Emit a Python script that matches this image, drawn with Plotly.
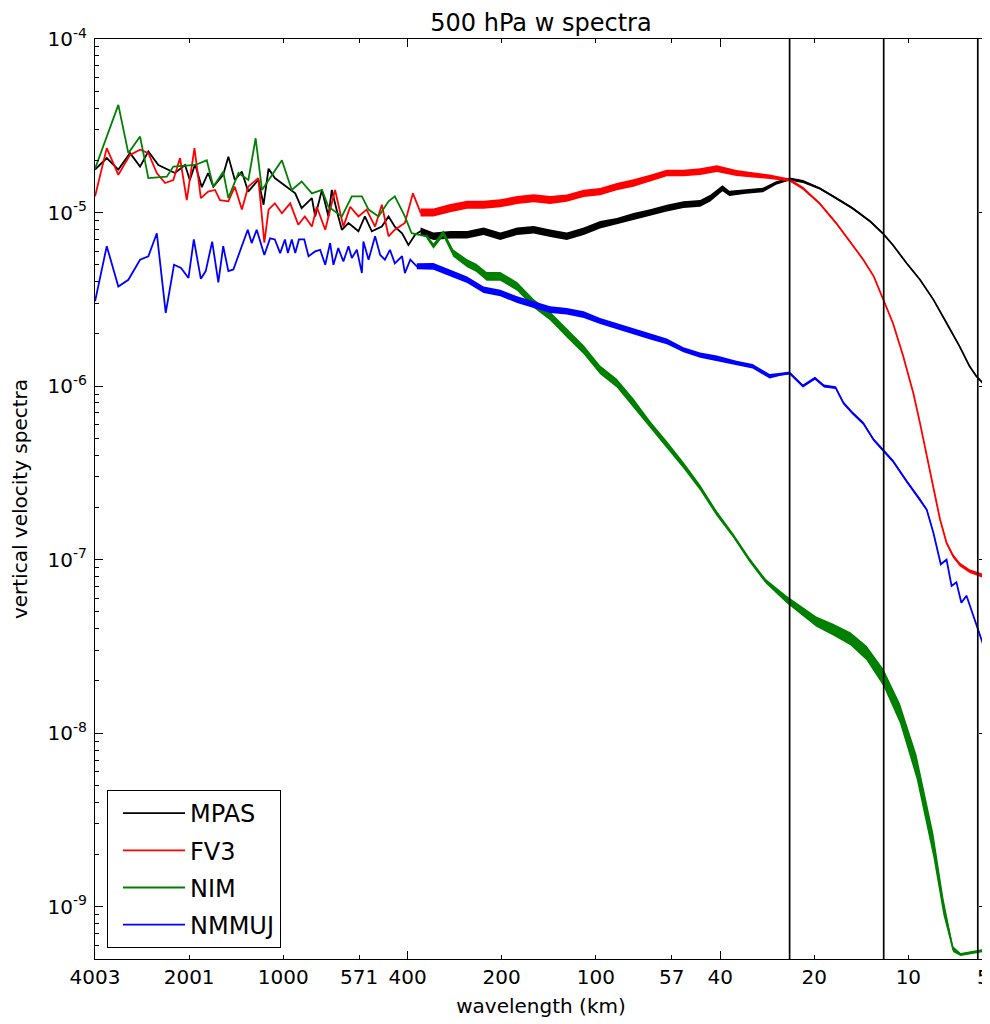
import math
import plotly.graph_objects as go

# ---------------- data ----------------
# x = spherical wavenumber k (wavelength = 4003 km / k), y = vertical velocity spectra

MPAS_K_LOW = [1.0, 1.09, 1.187, 1.294, 1.393, 1.481, 1.594, 1.696, 1.802, 1.94,
              2.01, 2.09, 2.195, 2.30, 2.39, 2.57, 2.67, 2.80, 2.95, 3.09,
              3.33, 3.46, 3.59, 3.76, 4.05, 4.37, 4.58, 4.94, 5.06, 5.32,
              5.58, 5.72, 6.0, 6.16, 6.47, 6.96, 7.30, 7.68, 8.27, 8.69,
              9.1, 9.6, 10.06, 10.57]
MPAS_V_LOW = [1.77e-5, 2.06e-5, 1.77e-5, 2.2e-5, 1.84e-5, 2.25e-5, 1.88e-5, 1.79e-5, 1.69e-5, 1.88e-5,
              1.54e-5, 1.9e-5, 1.4e-5, 1.69e-5, 1.41e-5, 1.65e-5, 2.1e-5, 1.54e-5, 1.72e-5, 1.32e-5,
              1.54e-5, 1.11e-5, 1.79e-5, 1.58e-5, 1.43e-5, 1.29e-5, 1.06e-5, 1.21e-5, 9.5e-6, 1.35e-5,
              9.5e-6, 1.35e-5, 9.5e-6, 7.96e-6, 8.7e-6, 7.8e-6, 9.5e-6, 7.8e-6, 8.3e-6, 9.5e-6,
              8.3e-6, 7.6e-6, 6.5e-6, 7.45e-6]
MPAS_K_MID = [11, 12.1, 13.7, 15.5, 17.5, 19.8, 22.4, 25.3, 28.6, 32.3,
              36.6, 41.3, 46.7, 52.8, 59.7, 67.5, 76.3, 86.3, 93, 101.7,
              107, 121, 137, 151, 166.8, 184, 208, 235, 265, 302,
              331, 357, 395, 436, 481, 530, 584, 628, 660, 714]
MPAS_V_MID = [7.8e-6, 7.3e-6, 7.45e-6, 7.45e-6, 7.8e-6, 7.3e-6, 7.8e-6, 7.96e-6, 7.6e-6, 7.3e-6,
              7.8e-6, 8.5e-6, 8.9e-6, 9.5e-6, 1.0e-5, 1.06e-5, 1.11e-5, 1.13e-5, 1.21e-5, 1.38e-5,
              1.29e-5, 1.32e-5, 1.35e-5, 1.48e-5, 1.56e-5, 1.51e-5, 1.38e-5, 1.21e-5, 1.06e-5, 8.9e-6,
              7.6e-6, 6.5e-6, 5.1e-6, 4.1e-6, 3.15e-6, 2.31e-6, 1.69e-6, 1.3e-6, 1.14e-6, 9.8e-7]
# multiplicative half-width of the visible noise envelope
MPAS_SPREAD = [1.05, 1.05, 1.05, 1.05, 1.05, 1.05, 1.05, 1.05, 1.05, 1.05,
               1.05, 1.05, 1.045, 1.045, 1.045, 1.045, 1.045, 1.045, 1.045, 1.04,
               1.035, 1.03, 1.03, 1.025, 1.02, 1.02, 1.015, 1.015, 1.015, 1.015,
               1.01, 1.01, 1.01, 1.01, 1.01, 1.01, 1.01, 1.01, 1.01, 1.01]

FV3_K_LOW = [1.0, 1.09, 1.187, 1.294, 1.393, 1.481, 1.576, 1.675, 1.78, 1.87,
             1.965, 2.08, 2.18, 2.30, 2.42, 2.51, 2.67, 2.80, 2.95, 3.09,
             3.33, 3.48, 3.59, 3.76, 3.96, 4.21, 4.47, 4.69, 4.94, 5.12,
             5.45, 5.86, 6.23, 6.55, 6.96, 7.39, 7.87, 8.27, 8.69, 9.1,
             9.8, 10.4]
FV3_V_LOW = [1.24e-5, 2.35e-5, 1.65e-5, 2.15e-5, 2.3e-5, 2.2e-5, 1.69e-5, 1.48e-5, 1.54e-5, 2.06e-5,
             1.18e-5, 2.35e-5, 1.21e-5, 1.32e-5, 1.35e-5, 1.18e-5, 1.16e-5, 1.41e-5, 1.04e-5, 1.41e-5,
             1.58e-5, 6.7e-6, 1.04e-5, 1.13e-5, 9.9e-6, 1.13e-5, 8.5e-6, 9.5e-6, 8.3e-6, 1.08e-5,
             7.96e-6, 1.35e-5, 8.3e-6, 1.08e-5, 9.5e-6, 1.04e-5, 8.3e-6, 1.11e-5, 7.3e-6, 7.96e-6,
             8.7e-6, 1.29e-5]
FV3_K_MID = [11, 12.1, 13.7, 15.5, 17.5, 19.8, 22.4, 25.3, 28.6, 32.3,
             36.6, 41.3, 46.7, 52.8, 59.7, 67.5, 76.3, 86.3, 97.6, 112.7,
             127, 144, 166.8, 184, 208, 235, 265, 287, 310, 331,
             357, 385, 415, 436, 458, 481, 505, 530, 556, 584,
             628, 679, 714]
FV3_V_MID = [1.0e-5, 1.0e-5, 1.06e-5, 1.11e-5, 1.11e-5, 1.13e-5, 1.18e-5, 1.21e-5, 1.18e-5, 1.21e-5,
             1.29e-5, 1.32e-5, 1.41e-5, 1.48e-5, 1.58e-5, 1.69e-5, 1.69e-5, 1.72e-5, 1.79e-5, 1.69e-5,
             1.65e-5, 1.61e-5, 1.54e-5, 1.38e-5, 1.13e-5, 8.7e-6, 6.5e-6, 5.35e-6, 4.29e-6, 3.22e-6,
             2.31e-6, 1.49e-6, 9.1e-7, 6.1e-7, 3.95e-7, 2.54e-7, 1.71e-7, 1.25e-7, 1.05e-7, 9.4e-8,
             8.6e-8, 8.2e-8, 7.9e-8]
FV3_SPREAD = [1.055, 1.055, 1.055, 1.055, 1.055, 1.055, 1.055, 1.055, 1.055, 1.05,
              1.05, 1.05, 1.05, 1.05, 1.045, 1.045, 1.045, 1.045, 1.045, 1.04,
              1.035, 1.03, 1.02, 1.02, 1.015, 1.015, 1.015, 1.01, 1.01, 1.01,
              1.01, 1.01, 1.01, 1.01, 1.01, 1.01, 1.015, 1.02, 1.025, 1.025,
              1.025, 1.025, 1.025]

NIM_K_LOW = [1.0, 1.187, 1.278, 1.393, 1.481, 1.696, 1.78, 2.09, 2.277, 2.39,
             2.57, 2.67, 2.876, 3.094, 3.264, 3.42, 3.96, 4.26, 4.58, 4.94,
             5.32, 5.58, 6.16, 6.63, 7.14, 7.5, 8.07, 8.69, 9.1, 9.8,
             10.3]
NIM_V_LOW = [1.79e-5, 4.17e-5, 2.2e-5, 2.74e-5, 1.58e-5, 1.61e-5, 1.84e-5, 1.88e-5, 2.0e-5, 1.41e-5,
             1.72e-5, 1.21e-5, 1.69e-5, 1.54e-5, 2.68e-5, 1.35e-5, 2.0e-5, 1.35e-5, 1.51e-5, 1.29e-5,
             1.35e-5, 1.08e-5, 9.5e-6, 1.24e-5, 1.24e-5, 1.04e-5, 9.5e-6, 1.16e-5, 1.24e-5, 9.5e-6,
             7.6e-6]
NIM_K_MID = [11.5, 12.1, 13.0, 14.0, 15.5, 16.6, 17.9, 19.8, 22.4, 25.3,
             28.6, 32.3, 36.6, 41.3, 46.7, 52.8, 59.7, 67.5, 76.3, 86.3,
             97.6, 110, 124, 140, 163, 203, 230, 261, 294, 333,
             376, 425, 481, 518, 556, 588, 646, 697, 714]
NIM_V_MID = [7.3e-6, 6.4e-6, 7.6e-6, 5.84e-6, 5.1e-6, 4.8e-6, 4.29e-6, 4.29e-6, 3.75e-6, 3.0e-6,
             2.53e-6, 2.02e-6, 1.62e-6, 1.24e-6, 1.04e-6, 8.0e-7, 6.0e-7, 4.6e-7, 3.5e-7, 2.6e-7,
             1.84e-7, 1.38e-7, 1.0e-7, 7.5e-8, 5.9e-8, 4.4e-8, 3.95e-8, 3.5e-8, 2.9e-8, 2.09e-8,
             1.3e-8, 6.4e-9, 2.26e-9, 1.0e-9, 5.7e-10, 5.3e-10, 5.45e-10, 5.6e-10, 6.0e-10]
NIM_SPREAD = [1.03, 1.035, 1.04, 1.05, 1.055, 1.055, 1.06, 1.06, 1.06, 1.06,
              1.06, 1.06, 1.06, 1.06, 1.06, 1.06, 1.05, 1.05, 1.045, 1.04,
              1.035, 1.03, 1.03, 1.03, 1.05, 1.07, 1.08, 1.09, 1.10, 1.12,
              1.14, 1.17, 1.17, 1.12, 1.04, 1.02, 1.02, 1.02, 1.02]

NMMUJ_K_LOW = [1.0, 1.09, 1.187, 1.278, 1.393, 1.481, 1.576, 1.683, 1.789, 1.884,
               1.99, 2.07, 2.18, 2.26, 2.37, 2.48, 2.57, 2.67, 2.77, 3.08,
               3.17, 3.29, 3.48, 3.63, 3.76, 3.91, 4.05, 4.14, 4.26, 4.37,
               4.49, 4.67, 4.82, 5.06, 5.25, 5.45, 5.65, 5.79, 6.0, 6.23,
               6.47, 6.63, 6.88, 7.14, 7.22, 7.5, 7.87, 8.17, 8.46, 8.78,
               9.1, 9.6, 9.8, 10.2]
NMMUJ_V_LOW = [3.08e-6, 6.4e-6, 3.75e-6, 4.1e-6, 5.35e-6, 5.6e-6, 7.6e-6, 2.64e-6, 5.0e-6, 4.8e-6,
               4.2e-6, 7.0e-6, 4.15e-6, 4.6e-6, 6.8e-6, 3.96e-6, 6.4e-6, 4.6e-6, 4.7e-6, 7.96e-6,
               6.67e-6, 7.96e-6, 5.7e-6, 7.1e-6, 7.0e-6, 5.84e-6, 7.0e-6, 5.84e-6, 7.0e-6, 5.84e-6,
               7.0e-6, 7.0e-6, 5.6e-6, 5.97e-6, 6.1e-6, 5.0e-6, 6.67e-6, 5.0e-6, 6.24e-6, 5.23e-6,
               6.4e-6, 5.47e-6, 6.1e-6, 4.48e-6, 6.8e-6, 5.35e-6, 7.3e-6, 5.7e-6, 5.35e-6, 6.1e-6,
               5.1e-6, 5.6e-6, 4.48e-6, 5.35e-6]
NMMUJ_K_MID = [10.7, 12.1, 13.7, 15.5, 17.5, 19.8, 22.4, 25.3, 28.6, 32.3,
               36.6, 41.3, 46.7, 52.8, 59.7, 67.5, 76.3, 86.3, 97.6, 112.7,
               127, 144, 156, 166.8, 184, 201, 215, 234, 248, 265,
               287, 310, 331, 357, 395, 436, 458, 481, 508, 530,
               550, 570, 591, 614, 646, 670, 714]
NMMUJ_V_MID = [4.9e-6, 4.9e-6, 4.48e-6, 4.1e-6, 3.59e-6, 3.44e-6, 3.15e-6, 2.95e-6, 2.76e-6, 2.7e-6,
               2.58e-6, 2.37e-6, 2.21e-6, 2.07e-6, 1.93e-6, 1.81e-6, 1.62e-6, 1.51e-6, 1.45e-6, 1.36e-6,
               1.3e-6, 1.14e-6, 1.17e-6, 1.19e-6, 1.0e-6, 1.11e-6, 1.0e-6, 9.8e-7, 8.0e-7, 7.0e-7,
               6.1e-7, 4.9e-7, 4.3e-7, 3.7e-7, 2.83e-7, 2.22e-7, 1.94e-7, 1.43e-7, 9.4e-8, 1.0e-7,
               7.05e-8, 7.4e-8, 5.65e-8, 6.2e-8, 4.73e-8, 3.97e-8, 2.79e-8]
NMMUJ_SPREAD = [1.04, 1.045, 1.045, 1.045, 1.045, 1.045, 1.045, 1.045, 1.045, 1.045,
                1.045, 1.04, 1.04, 1.04, 1.04, 1.04, 1.035, 1.035, 1.035, 1.03,
                1.03, 1.03, 1.02, 1.02, 1.02, 1.02, 1.02, 1.02, 1.02, 1.02,
                1.02, 1.02, 1.02, 1.02, 1.02, 1.02, 1.015, 1.015, 1.01, 1.01,
                1.01, 1.01, 1.01, 1.01, 1.01, 1.01, 1.01]

# wavelength of k = 1 and the reference wavelengths marked with vertical lines
BASE_WAVELENGTH_KM = 4003
MARKED_WAVELENGTHS_KM = [24, 12, 6]

# x tick positions (wavenumber) and their wavelength labels
XTICK_K = [1, 2, 4, 7, 10, 20, 40, 70, 100, 200, 400, 695]
XTICK_LABELS = ["4003", "2001", "1000", "571", "400", "200", "100", "57", "40", "20", "10", "5"]
XMAJOR_K = [1, 10, 100]

YTICK_VALS = [1e-9, 1e-8, 1e-7, 1e-6, 1e-5, 1e-4]
YTICK_LABELS = ["10<sup>-9</sup>", "10<sup>-8</sup>", "10<sup>-7</sup>",
                "10<sup>-6</sup>", "10<sup>-5</sup>", "10<sup>-4</sup>"]

K_MAX = 714
Y_MIN, Y_MAX = 5e-10, 1e-4

SERIES = [
    ("MPAS", "#000000", MPAS_K_LOW, MPAS_V_LOW, MPAS_K_MID, MPAS_V_MID, MPAS_SPREAD),
    ("FV3", "#ff0000", FV3_K_LOW, FV3_V_LOW, FV3_K_MID, FV3_V_MID, FV3_SPREAD),
    ("NIM", "#008000", NIM_K_LOW, NIM_V_LOW, NIM_K_MID, NIM_V_MID, NIM_SPREAD),
    ("NMMUJ", "#0000ff", NMMUJ_K_LOW, NMMUJ_V_LOW, NMMUJ_K_MID, NMMUJ_V_MID, NMMUJ_SPREAD),
]

# ---------------- figure ----------------
fig = go.Figure()

for name, color, kl, vl, km, vm, sp in SERIES:
    hi = [v * s for v, s in zip(vm, sp)]
    lo = [v / s for v, s in zip(vm, sp)]
    fig.add_trace(go.Scatter(
        x=km + km[::-1], y=hi + lo[::-1], mode="lines", fill="toself",
        fillcolor=color, line=dict(width=0, color=color), hoverinfo="skip",
        showlegend=False, legendgroup=name))
    fig.add_trace(go.Scatter(
        x=kl + km, y=vl + vm, mode="lines", name=name, legendgroup=name,
        line=dict(color=color, width=1.8)))

for wl in MARKED_WAVELENGTHS_KM:
    kk = BASE_WAVELENGTH_KM / wl
    fig.add_trace(go.Scatter(
        x=[kk, kk], y=[Y_MIN, Y_MAX], mode="lines",
        line=dict(color="black", width=1.7), hoverinfo="skip", showlegend=False))

yminor = [m * 10.0 ** e for e in range(-10, -4) for m in range(2, 10)
          if Y_MIN * 0.999 <= m * 10.0 ** e <= Y_MAX]

# page body has an 8px offset, so the figure is 8px smaller and shifted
W, H = 982, 1016
fig.update_layout(
    width=W, height=H,
    margin=dict(l=87, r=3, t=31, b=65, autoexpand=False),
    paper_bgcolor="white", plot_bgcolor="white",
    font=dict(family="DejaVu Sans", size=20, color="black"),
    title=dict(text="500 hPa w spectra", x=0.5, xref="paper", xanchor="center",
               y=1 - 14.5 / H, yref="container", yanchor="middle",
               font=dict(size=24, color="black")),
    showlegend=True,
    legend=dict(x=(107 - 95) / 892, y=(959 - 790) / 920, xanchor="left", yanchor="top",
                xref="paper", yref="paper",
                bordercolor="black", borderwidth=1, bgcolor="white",
                font=dict(size=24, color="black"), tracegroupgap=3,
                traceorder="grouped", itemwidth=62, indentation=10),
)

fig.update_xaxes(
    type="log", range=[-0.0002, math.log10(K_MAX)],
    tickmode="array", tickvals=XTICK_K, ticktext=XTICK_LABELS,
    ticks="inside", ticklen=4, tickwidth=1, tickcolor="black",
    showline=True, linecolor="black", linewidth=1.3, mirror="ticks",
    showgrid=False, zeroline=False, automargin=False,
    tickfont=dict(size=20, color="black"), ticklabelstandoff=0,
    title=dict(text="wavelength (km)", font=dict(size=20), standoff=10),
    minor=dict(tickmode="array", tickvals=XMAJOR_K, ticks="inside", ticklen=8,
               tickwidth=1, tickcolor="black", showgrid=False),
)

fig.update_yaxes(
    type="log", range=[math.log10(Y_MIN), math.log10(Y_MAX)],
    tickmode="array", tickvals=YTICK_VALS, ticktext=YTICK_LABELS,
    ticks="inside", ticklen=8, tickwidth=1, tickcolor="black",
    showline=True, linecolor="black", linewidth=1.3, mirror="ticks",
    showgrid=False, zeroline=False, automargin=False,
    tickfont=dict(size=20, color="black"), ticklabelstandoff=3,
    title=dict(text="vertical velocity spectra", font=dict(size=20), standoff=14),
    minor=dict(tickmode="array", tickvals=yminor, ticks="inside", ticklen=4,
               tickwidth=1, tickcolor="black", showgrid=False),
)

fig.write_html("out.html")
